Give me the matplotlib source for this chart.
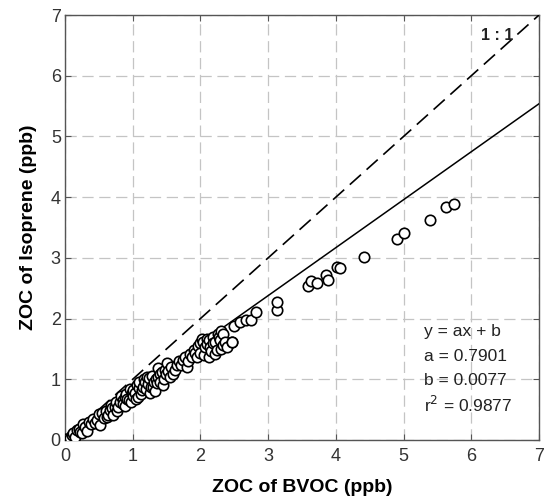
import numpy as np
import matplotlib.pyplot as plt

plt.rcParams['font.family'] = ['Liberation Sans', 'DejaVu Sans']

# ZOC pairs (ppb): BVOC on x, isoprene on y
bvoc = [0.00, 0.03, 0.07, 0.10, 0.12, 0.15, 0.17, 0.20, 0.22, 0.25, 0.27, 0.30,
        0.33, 0.35, 0.39, 0.42, 0.45, 0.47, 0.50, 0.52, 0.55, 0.57, 0.60, 0.62,
        0.64, 0.66, 0.68, 0.70, 0.71, 0.74, 0.75, 0.77, 0.79, 0.81, 0.83, 0.85,
        0.86, 0.88, 0.89, 0.90, 0.92, 0.94, 0.96, 0.98, 0.99, 1.00, 1.01, 1.03,
        1.05, 1.06, 1.08, 1.09, 1.10, 1.12, 1.13, 1.15, 1.17, 1.18, 1.20, 1.21,
        1.22, 1.24, 1.26, 1.27, 1.29, 1.30, 1.31, 1.33, 1.35, 1.36, 1.38, 1.38,
        1.40, 1.41, 1.43, 1.45, 1.46, 1.48, 1.49, 1.50, 1.52, 1.55, 1.57, 1.60,
        1.62, 1.65, 1.68, 1.72, 1.75, 1.77, 1.80, 1.82, 1.85, 1.87, 1.90, 1.92,
        1.95, 1.97, 1.99, 2.00, 2.02, 2.04, 2.05, 2.07, 2.09, 2.10, 2.12, 2.13,
        2.14, 2.16, 2.18, 2.19, 2.21, 2.22, 2.24, 2.26, 2.27, 2.29, 2.30, 2.31,
        2.33, 2.34, 2.36, 2.39, 2.46, 2.46, 2.50, 2.58, 2.67, 2.74, 2.82, 3.13,
        3.13, 3.59, 3.64, 3.72, 3.85, 3.89, 4.01, 4.06, 4.42, 4.90, 5.01, 5.39,
        5.62, 5.74]
isoprene = [0.01, 0.02, 0.03, 0.08, 0.12, 0.05, 0.16, 0.18, 0.13, 0.11, 0.27, 0.22,
            0.14, 0.30, 0.27, 0.35, 0.28, 0.33, 0.42, 0.25, 0.45, 0.36, 0.47, 0.38,
            0.41, 0.49, 0.57, 0.52, 0.41, 0.55, 0.63, 0.48, 0.55, 0.63, 0.72, 0.66,
            0.60, 0.56, 0.71, 0.76, 0.68, 0.66, 0.84, 0.62, 0.77, 0.72, 0.82, 0.78,
            0.68, 0.90, 0.71, 0.86, 0.95, 0.76, 0.82, 0.88, 1.00, 0.96, 0.84, 1.04,
            0.92, 1.02, 0.77, 0.88, 1.06, 0.87, 0.95, 0.80, 1.01, 0.94, 1.18, 1.04,
            1.09, 0.96, 1.12, 0.90, 1.00, 1.15, 1.08, 1.26, 1.14, 1.04, 1.20, 1.09,
            1.16, 1.23, 1.30, 1.24, 1.32, 1.37, 1.20, 1.30, 1.42, 1.36, 1.48, 1.44,
            1.37, 1.55, 1.59, 1.44, 1.67, 1.62, 1.40, 1.53, 1.67, 1.58, 1.37, 1.64,
            1.53, 1.46, 1.70, 1.59, 1.62, 1.42, 1.48, 1.75, 1.70, 1.64, 1.50, 1.80,
            1.74, 1.56, 1.62, 1.53, 1.61, 1.62, 1.87, 1.95, 1.97, 1.98, 2.10, 2.14,
            2.28, 2.54, 2.62, 2.59, 2.72, 2.64, 2.85, 2.84, 3.02, 3.31, 3.41, 3.62,
            3.83, 3.88]

# linear fit coefficients shown in the annotation
a = 0.7901
b = 0.0077
r2 = 0.9877

fig = plt.figure(figsize=(5.48, 5.01), dpi=100)
ax = fig.add_axes([0.1186, 0.1218, 0.8650, 0.8482])

xx = np.array([0, 7])
ax.plot(xx, xx, color='black', lw=1.2, dashes=(9, 4.5), zorder=3)
ax.plot(xx, a * xx + b, color='black', lw=1.1, zorder=3)
ax.plot(bvoc, isoprene, 'o', ms=7.5, mfc='white', mec='black', mew=1.2, zorder=4)

ax.set_xlim(0, 7)
ax.set_ylim(0, 7)
ax.set_xticks(range(8))
ax.set_yticks(range(8))
ax.grid(True, color='#c4c4c4', lw=0.9, dashes=(9, 4.5))
ax.set_axisbelow(True)
ax.tick_params(direction='in', top=True, right=True, length=4, width=0.8,
               labelsize=13, colors='#555555', labelcolor='#333333')
ax.tick_params(axis='x', pad=6)
ax.tick_params(axis='y', pad=3)
for s in ax.spines.values():
    s.set_color('#555555')
    s.set_linewidth(1.0)

ax.set_xlabel('ZOC of BVOC (ppb)', fontsize=14, fontweight='bold', labelpad=10)
ax.set_ylabel('ZOC of Isoprene (ppb)', fontsize=14, fontweight='bold', labelpad=10)

ax.text(6.15, 6.67, '1 : 1', fontsize=11.5, fontweight='bold', va='center',
        color='#222222')
stats = ['y = ax + b', f'a = {a:.4f}', f'b = {b:.4f}', f'r$^2$ = {r2:.4f}']
for i, line in enumerate(stats):
    ax.text(5.30, 1.78 - 0.40 * i, line, fontsize=12.5, va='center', color='#222222')

fig.savefig('out.png', dpi=100)
